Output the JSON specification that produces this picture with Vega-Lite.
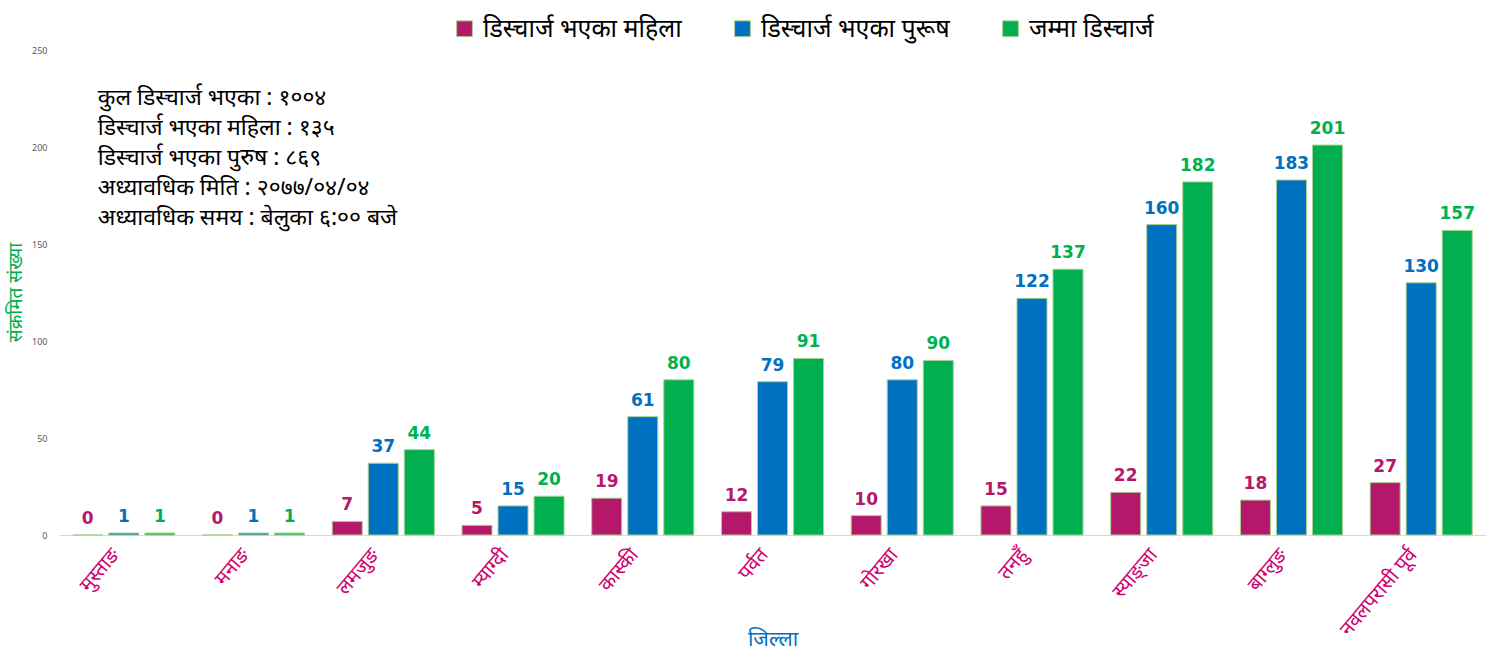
{
  "$schema": "https://vega.github.io/schema/vega-lite/v6.json",
  "width": 1427,
  "height": 485,
  "autosize": {"type": "none"},
  "padding": {"left": 59, "top": 50, "right": 26, "bottom": 120},
  "background": "white",
  "config": {"view": {"stroke": null}, "font": "Noto Sans"},
  "datasets": {
    "bars": [
      {"district": "मुस्ताङ", "series": "डिस्चार्ज भएका महिला", "value": 0},
      {"district": "मुस्ताङ", "series": "डिस्चार्ज भएका पुरूष", "value": 1},
      {"district": "मुस्ताङ", "series": "जम्मा डिस्चार्ज", "value": 1},
      {"district": "मनाङ", "series": "डिस्चार्ज भएका महिला", "value": 0},
      {"district": "मनाङ", "series": "डिस्चार्ज भएका पुरूष", "value": 1},
      {"district": "मनाङ", "series": "जम्मा डिस्चार्ज", "value": 1},
      {"district": "लमजुङ", "series": "डिस्चार्ज भएका महिला", "value": 7},
      {"district": "लमजुङ", "series": "डिस्चार्ज भएका पुरूष", "value": 37},
      {"district": "लमजुङ", "series": "जम्मा डिस्चार्ज", "value": 44},
      {"district": "म्याग्दी", "series": "डिस्चार्ज भएका महिला", "value": 5},
      {"district": "म्याग्दी", "series": "डिस्चार्ज भएका पुरूष", "value": 15},
      {"district": "म्याग्दी", "series": "जम्मा डिस्चार्ज", "value": 20},
      {"district": "कास्की", "series": "डिस्चार्ज भएका महिला", "value": 19},
      {"district": "कास्की", "series": "डिस्चार्ज भएका पुरूष", "value": 61},
      {"district": "कास्की", "series": "जम्मा डिस्चार्ज", "value": 80},
      {"district": "पर्वत", "series": "डिस्चार्ज भएका महिला", "value": 12},
      {"district": "पर्वत", "series": "डिस्चार्ज भएका पुरूष", "value": 79},
      {"district": "पर्वत", "series": "जम्मा डिस्चार्ज", "value": 91},
      {"district": "गोरखा", "series": "डिस्चार्ज भएका महिला", "value": 10},
      {"district": "गोरखा", "series": "डिस्चार्ज भएका पुरूष", "value": 80},
      {"district": "गोरखा", "series": "जम्मा डिस्चार्ज", "value": 90},
      {"district": "तनहुँ", "series": "डिस्चार्ज भएका महिला", "value": 15},
      {"district": "तनहुँ", "series": "डिस्चार्ज भएका पुरूष", "value": 122},
      {"district": "तनहुँ", "series": "जम्मा डिस्चार्ज", "value": 137},
      {"district": "स्याङ्जा", "series": "डिस्चार्ज भएका महिला", "value": 22},
      {"district": "स्याङ्जा", "series": "डिस्चार्ज भएका पुरूष", "value": 160},
      {"district": "स्याङ्जा", "series": "जम्मा डिस्चार्ज", "value": 182},
      {"district": "बाग्लुङ", "series": "डिस्चार्ज भएका महिला", "value": 18},
      {"district": "बाग्लुङ", "series": "डिस्चार्ज भएका पुरूष", "value": 183},
      {"district": "बाग्लुङ", "series": "जम्मा डिस्चार्ज", "value": 201},
      {"district": "नवलपरासी  पूर्व", "series": "डिस्चार्ज भएका महिला", "value": 27},
      {"district": "नवलपरासी  पूर्व", "series": "डिस्चार्ज भएका पुरूष", "value": 130},
      {"district": "नवलपरासी  पूर्व", "series": "जम्मा डिस्चार्ज", "value": 157}
    ],
    "note": [
      {"note": "कुल डिस्चार्ज भएका : १००४\nडिस्चार्ज भएका महिला : १३५\nडिस्चार्ज भएका पुरुष : ८६९\nअध्यावधिक मिति : २०७७/०४/०४\nअध्यावधिक समय : बेलुका ६:०० बजे"}
    ]
  },
  "layer": [
    {
      "data": {"name": "bars"},
      "mark": {"type": "bar", "stroke": "#A9D18E", "strokeWidth": 1},
      "encoding": {
        "x": {
          "field": "district", "type": "nominal", "sort": null,
          "scale": {"paddingInner": 0.167, "paddingOuter": 0.083},
          "axis": {
            "title": "जिल्ला", "titleColor": "#0070C0", "titleFontSize": 21, "titleFontWeight": "normal",
            "titleY": 110, "titleBaseline": "alphabetic",
            "labelAngle": -50, "labelAlign": "right", "labelBaseline": "middle",
            "labelFontSize": 20, "labelColor": "#D0006F", "labelPadding": 16, "labelOffset": -8,
            "ticks": false, "domainColor": "#D9D9D9", "labelOverlap": false
          }
        },
        "xOffset": {
          "field": "series", "type": "nominal",
          "sort": ["डिस्चार्ज भएका महिला", "डिस्चार्ज भएका पुरूष", "जम्मा डिस्चार्ज"],
          "scale": {"paddingInner": 0.167, "paddingOuter": 0.083}
        },
        "y": {
          "field": "value", "type": "quantitative",
          "scale": {"domain": [0, 250], "nice": false},
          "axis": {
            "title": "संक्रमित संख्या", "titleColor": "#00B050", "titleFontSize": 19, "titleFontWeight": "normal",
            "titleX": -44, "titleY": 242, "titleAngle": -90, "titleAlign": "center", "titleBaseline": "middle",
            "values": [0, 50, 100, 150, 200, 250],
            "labelFontSize": 9, "labelColor": "#595959", "labelPadding": 12,
            "ticks": false, "domain": false, "grid": false
          }
        },
        "color": {
          "field": "series", "type": "nominal",
          "sort": ["डिस्चार्ज भएका महिला", "डिस्चार्ज भएका पुरूष", "जम्मा डिस्चार्ज"],
          "scale": {"range": ["#B5186B", "#0070C0", "#00B050"]},
          "legend": {
            "title": null, "orient": "none", "legendX": 393, "legendY": -34, "direction": "horizontal",
            "symbolType": "square", "symbolSize": 250, "symbolStrokeColor": "#A9D18E", "symbolStrokeWidth": 1,
            "labelFontSize": 25, "labelColor": "#000000", "columnPadding": 48, "labelOffset": 6,
            "labelLimit": 400
          }
        }
      }
    },
    {
      "data": {"name": "bars"},
      "mark": {"type": "text", "dy": -16, "fontSize": 17, "fontWeight": "bold", "font": "DejaVu Sans"},
      "encoding": {
        "x": {"field": "district", "type": "nominal", "sort": null},
        "xOffset": {"field": "series", "type": "nominal", "sort": ["डिस्चार्ज भएका महिला", "डिस्चार्ज भएका पुरूष", "जम्मा डिस्चार्ज"]},
        "y": {"field": "value", "type": "quantitative"},
        "text": {"field": "value", "type": "quantitative"},
        "color": {"field": "series", "type": "nominal", "sort": ["डिस्चार्ज भएका महिला", "डिस्चार्ज भएका पुरूष", "जम्मा डिस्चार्ज"]}
      }
    },
    {
      "data": {"name": "note"},
      "mark": {"type": "text", "align": "left", "baseline": "top", "fontSize": 23, "lineHeight": 30, "lineBreak": "\n", "dx": -26, "color": "#000000"},
      "encoding": {
        "x": {"datum": "मुस्ताङ"},
        "y": {"datum": 231},
        "text": {"field": "note"}
      }
    }
  ]
}
